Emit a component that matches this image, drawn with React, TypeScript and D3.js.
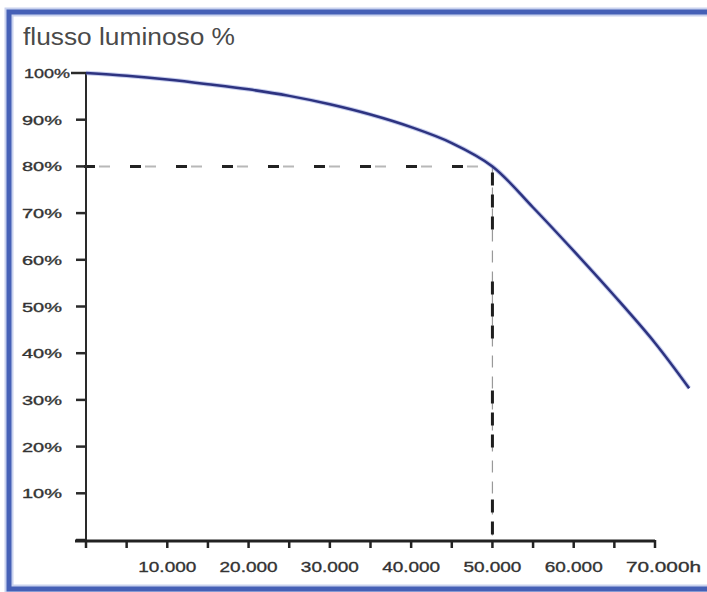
import { useEffect, useRef } from "react"
import * as d3 from "d3"

// data
const hours = [0, 5000, 10000, 15000, 20000, 25000, 30000, 35000, 40000, 45000, 50000, 55000, 60000, 65000, 70000, 74200]
const flux = [100, 99.4, 98.6, 97.6, 96.5, 95.1, 93.3, 91.1, 88.4, 85, 80, 71.2, 61.9, 52.3, 42.2, 32.5]

const yTicks = [10, 20, 30, 40, 50, 60, 70, 80, 90, 100]
const yTickLabels = ["10%", "20%", "30%", "40%", "50%", "60%", "70%", "80%", "90%", "100%"]
const xMinorTicks = [0, 5000, 10000, 15000, 20000, 25000, 30000, 35000, 40000, 45000, 50000, 55000, 60000, 65000, 70000]
const xTicks = [10000, 20000, 30000, 40000, 50000, 60000, 70000]
const xTickLabels = ["10.000", "20.000", "30.000", "40.000", "50.000", "60.000", "70.000h"]

const markHours = 50000
const markFlux = 80

const W = 707
const H = 592
const FONT = "'Liberation Sans', Arial, Helvetica, sans-serif"

export default function App() {
  const svgRef = useRef<SVGSVGElement>(null)

  useEffect(() => {
    if (!svgRef.current) return
    const svg = d3.select(svgRef.current)
    svg.selectAll("*").remove()

    const x = d3.scaleLinear().domain([0, 70000]).range([86, 655])
    const y = d3.scaleLinear().domain([0, 100]).range([540, 73])

    // frame
    svg.append("rect").attr("width", W).attr("height", H).attr("fill", "#fff")
    svg
      .append("rect")
      .attr("x", 9)
      .attr("y", 12)
      .attr("width", W + 20)
      .attr("height", 577)
      .attr("fill", "none")
      .attr("stroke", "#c9d2ee")
      .attr("stroke-width", 9)
    svg
      .append("rect")
      .attr("x", 9)
      .attr("y", 12)
      .attr("width", W + 20)
      .attr("height", 577)
      .attr("fill", "none")
      .attr("stroke", "#4560b6")
      .attr("stroke-width", 5)

    // title
    svg
      .append("text")
      .attr("x", 23)
      .attr("y", 45)
      .attr("font-family", FONT)
      .attr("font-size", 23)
      .attr("fill", "#4a4a4a")
      .attr("textLength", 212)
      .attr("lengthAdjust", "spacingAndGlyphs")
      .text("flusso luminoso %")

    // reference dashed lines (dark + light dashes)
    const hLine = (sel: d3.Selection<SVGLineElement, unknown, null, undefined>) =>
      sel.attr("x1", 76).attr("x2", x(markHours)).attr("y1", y(markFlux)).attr("y2", y(markFlux))
    hLine(svg.append("line"))
      .attr("stroke", "#b8b8b8")
      .attr("stroke-width", 2)
      .attr("stroke-dasharray", "11,35")
      .attr("stroke-dashoffset", -23)
    hLine(svg.append("line"))
      .attr("stroke", "#222")
      .attr("stroke-width", 3)
      .attr("stroke-dasharray", "11,35")
      .attr("stroke-dashoffset", -8)

    const vLine = (sel: d3.Selection<SVGLineElement, unknown, null, undefined>) =>
      sel.attr("x1", x(markHours)).attr("x2", x(markHours)).attr("y1", y(markFlux)).attr("y2", 541)
    vLine(svg.append("line"))
      .attr("stroke", "#999")
      .attr("stroke-width", 1.2)
      .attr("stroke-dasharray", "12,9")
    vLine(svg.append("line"))
      .attr("stroke", "#1e1e1e")
      .attr("stroke-width", 3)
      .attr("stroke-dasharray", "13,9,13,9,13,52")
      .attr("stroke-dashoffset", -6)

    // y axis
    svg
      .append("line")
      .attr("x1", 86)
      .attr("x2", 86)
      .attr("y1", y(100))
      .attr("y2", 541)
      .attr("stroke", "#2a2a2a")
      .attr("stroke-width", 2)
    svg
      .selectAll(".ytick")
      .data([0, ...yTicks])
      .join("line")
      .attr("class", "ytick")
      .attr("x1", (d) => (d === 100 ? 71 : 76))
      .attr("x2", 86)
      .attr("y1", (d) => y(d))
      .attr("y2", (d) => y(d))
      .attr("stroke", "#2a2a2a")
      .attr("stroke-width", 2.5)
    svg
      .selectAll(".ylab")
      .data(yTicks)
      .join("text")
      .attr("class", "ylab")
      .attr("x", (d) => (d === 100 ? 24 : 22))
      .attr("y", (d) => y(d) + 5)
      .attr("font-family", FONT)
      .attr("font-size", 13)
      .attr("fill", "#333")
      .attr("stroke", "#333")
      .attr("stroke-width", 0.35)
      .attr("textLength", (d) => (d === 100 ? 46 : 40))
      .attr("lengthAdjust", "spacingAndGlyphs")
      .text((d, i) => yTickLabels[i])

    // x axis
    svg
      .append("line")
      .attr("x1", 75)
      .attr("x2", x(70000))
      .attr("y1", 541)
      .attr("y2", 541)
      .attr("stroke", "#222")
      .attr("stroke-width", 3)
    svg
      .selectAll(".xtick")
      .data(xMinorTicks)
      .join("line")
      .attr("class", "xtick")
      .attr("x1", (d) => x(d))
      .attr("x2", (d) => x(d))
      .attr("y1", 540)
      .attr("y2", 548)
      .attr("stroke", "#222")
      .attr("stroke-width", 2.5)
    svg
      .selectAll(".xlab")
      .data(xTicks)
      .join("text")
      .attr("class", "xlab")
      .attr("x", (d) => x(d) - 29)
      .attr("y", 572)
      .attr("font-family", FONT)
      .attr("font-size", 15)
      .attr("fill", "#333")
      .attr("stroke", "#333")
      .attr("stroke-width", 0.35)
      .attr("textLength", (d, i) => (xTickLabels[i].endsWith("h") ? 75 : 58))
      .attr("lengthAdjust", "spacingAndGlyphs")
      .text((d, i) => xTickLabels[i])

    // curve
    const line = d3
      .line<number>()
      .x((d, i) => x(hours[i]))
      .y((d) => y(d))
      .curve(d3.curveCatmullRom.alpha(0.5))
    svg
      .append("path")
      .datum(flux)
      .attr("d", line)
      .attr("fill", "none")
      .attr("stroke", "#7f8fd8")
      .attr("stroke-opacity", 0.45)
      .attr("stroke-width", 4.5)
    svg
      .append("path")
      .datum(flux)
      .attr("d", line)
      .attr("fill", "none")
      .attr("stroke", "#2d3380")
      .attr("stroke-width", 2.5)
  }, [])

  return (
    <div style={{ position: "absolute", left: 0, top: 0 }}>
      <svg ref={svgRef} width={W} height={H} style={{ display: "block" }}></svg>
    </div>
  )
}
